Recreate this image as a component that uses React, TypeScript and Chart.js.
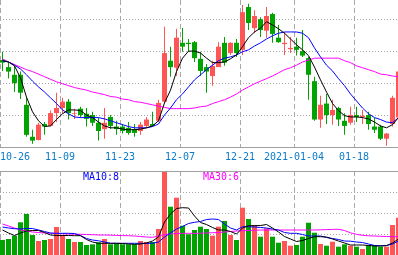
import { useEffect, useRef } from 'react';
import { Chart, registerables } from 'chart.js';

Chart.register(...registerables);

// Daily candles, 2020-10-26 .. 2021-01-27 (index = trading day)
const OPEN = [11.36, 11.25, 11.13, 11.13, 10.66, 10.16, 10.11, 10.36, 10.33, 10.53,
  10.61, 10.71, 10.52, 10.60, 10.52, 10.50, 10.38, 10.28, 10.47, 10.32,
  10.32, 10.30, 10.28, 10.25, 10.33, 10.36, 10.41, 10.71, 11.35, 11.24,
  11.63, 11.63, 11.64, 11.38, 11.25, 11.11, 11.25, 11.63, 11.47, 11.63,
  11.52, 12.19, 11.86, 12.00, 11.82, 12.08, 11.71, 11.61, 11.53, 11.57,
  11.50, 11.39, 11.03, 10.43, 10.68, 10.50, 10.61, 10.41, 10.38, 10.50,
  10.47, 10.50, 10.32, 10.32, 10.13, 10.36, 10.46];
const HIGH = [11.49, 11.33, 11.27, 11.18, 10.78, 10.27, 10.38, 10.39, 10.57, 10.85,
  10.77, 10.75, 10.60, 10.63, 10.61, 10.55, 10.46, 10.61, 10.50, 10.41,
  10.36, 10.39, 10.36, 10.39, 10.47, 10.55, 10.74, 11.88, 11.57, 11.85,
  11.86, 11.69, 11.66, 11.49, 11.30, 11.35, 11.64, 11.72, 11.64, 11.69,
  12.22, 12.24, 12.14, 12.03, 12.19, 12.10, 11.91, 11.80, 11.72, 11.71,
  11.83, 11.41, 11.10, 10.80, 10.83, 10.74, 10.63, 10.53, 10.63, 10.63,
  10.58, 10.55, 10.46, 10.35, 10.22, 10.80, 11.21];
const LOW = [11.19, 11.07, 10.86, 10.75, 10.16, 10.05, 10.10, 10.19, 10.32, 10.39,
  10.52, 10.43, 10.44, 10.46, 10.32, 10.33, 10.10, 10.13, 10.28, 10.19,
  10.21, 10.19, 10.16, 10.19, 10.30, 10.32, 10.39, 10.69, 11.10, 11.11,
  11.49, 11.49, 11.33, 11.11, 10.85, 10.96, 11.25, 11.27, 11.44, 11.41,
  11.44, 11.83, 11.78, 11.72, 11.71, 11.63, 11.63, 11.44, 11.47, 11.43,
  11.41, 10.74, 10.41, 10.30, 10.36, 10.35, 10.33, 10.19, 10.35, 10.39,
  10.36, 10.27, 10.22, 10.11, 10.02, 10.32, 10.43];
const CLOSE = [11.32, 11.18, 11.00, 10.85, 10.19, 10.10, 10.35, 10.32, 10.53, 10.61,
  10.71, 10.53, 10.53, 10.50, 10.44, 10.38, 10.25, 10.38, 10.33, 10.28,
  10.25, 10.22, 10.22, 10.35, 10.43, 10.33, 10.69, 11.47, 11.25, 11.71,
  11.57, 11.61, 11.39, 11.19, 11.18, 11.27, 11.57, 11.32, 11.63, 11.47,
  12.11, 11.94, 12.05, 11.83, 12.05, 11.77, 11.64, 11.63, 11.55, 11.52,
  11.43, 11.13, 10.43, 10.66, 10.50, 10.58, 10.43, 10.33, 10.50, 10.47,
  10.49, 10.36, 10.27, 10.13, 10.21, 10.77, 11.18];

// Price moving averages
const MA5 = [11.35, 11.33, 11.27, 11.08, 10.78, 10.55, 10.41, 10.32, 10.33, 10.43,
  10.52, 10.58, 10.58, 10.57, 10.50, 10.46, 10.39, 10.33, 10.30, 10.30,
  10.28, 10.27, 10.27, 10.28, 10.30, 10.33, 10.41, 10.69, 10.89, 11.18,
  11.39, 11.50, 11.50, 11.47, 11.39, 11.32, 11.32, 11.33, 11.38, 11.44,
  11.57, 11.71, 11.80, 11.86, 11.96, 11.91, 11.85, 11.78, 11.69, 11.60,
  11.52, 11.43, 11.25, 11.05, 10.86, 10.68, 10.57, 10.49, 10.47, 10.47,
  10.46, 10.44, 10.39, 10.33, 10.30, 10.35, 10.46];
const MA10 = [11.35, 11.33, 11.28, 11.22, 11.13, 11.03, 10.94, 10.86, 10.77, 10.68,
  10.58, 10.52, 10.47, 10.46, 10.46, 10.46, 10.46, 10.44, 10.41, 10.38,
  10.35, 10.32, 10.30, 10.30, 10.30, 10.32, 10.36, 10.50, 10.61, 10.74,
  10.83, 10.94, 11.05, 11.13, 11.21, 11.28, 11.35, 11.39, 11.41, 11.44,
  11.49, 11.52, 11.58, 11.63, 11.69, 11.74, 11.78, 11.80, 11.80, 11.80,
  11.78, 11.71, 11.55, 11.41, 11.28, 11.19, 11.07, 10.96, 10.83, 10.72,
  10.61, 10.52, 10.46, 10.43, 10.39, 10.38, 10.46];
const MA30 = [11.38, 11.33, 11.29, 11.25, 11.21, 11.18, 11.14, 11.10, 11.06, 11.02,
  10.99, 10.96, 10.93, 10.91, 10.89, 10.86, 10.84, 10.82, 10.79, 10.78,
  10.75, 10.74, 10.71, 10.70, 10.68, 10.66, 10.64, 10.62, 10.60, 10.60,
  10.60, 10.60, 10.61, 10.63, 10.64, 10.68, 10.71, 10.74, 10.78, 10.83,
  10.89, 10.94, 10.99, 11.03, 11.07, 11.11, 11.16, 11.21, 11.24, 11.28,
  11.33, 11.36, 11.39, 11.39, 11.39, 11.39, 11.39, 11.35, 11.32, 11.27,
  11.24, 11.21, 11.18, 11.14, 11.13, 11.11, 11.10];

// Daily volume and its moving averages
const VOLUME = [150, 160, 193, 327, 410, 200, 140, 150, 160, 280,
  200, 160, 130, 130, 100, 107, 127, 160, 107, 117,
  107, 107, 107, 140, 130, 130, 260, 840, 483, 573,
  293, 207, 250, 283, 260, 193, 283, 340, 200, 150,
  473, 360, 300, 183, 267, 183, 123, 140, 93, 100,
  183, 323, 223, 110, 93, 133, 83, 107, 93, 83,
  60, 100, 100, 83, 83, 300, 373];
const VMA5 = [250, 220, 195, 220, 240, 245, 245, 225, 200, 195,
  195, 195, 193, 193, 155, 130, 117, 117, 117, 117,
  115, 110, 107, 110, 120, 140, 180, 330, 410, 465,
  473, 470, 390, 325, 305, 275, 250, 250, 235, 210,
  270, 293, 293, 295, 305, 270, 230, 185, 160, 135,
  145, 165, 183, 183, 180, 160, 140, 120, 100, 100,
  100, 95, 90, 90, 93, 120, 160];
const VMA10 = [280, 270, 263, 260, 265, 265, 250, 235, 220, 217,
  217, 217, 215, 195, 165, 150, 142, 130, 117, 117,
  117, 117, 117, 117, 117, 117, 130, 180, 220, 260,
  285, 315, 327, 335, 355, 360, 355, 310, 270, 250,
  283, 283, 280, 275, 270, 260, 250, 225, 217, 217,
  205, 190, 190, 190, 175, 165, 155, 140, 138, 130,
  125, 110, 95, 93, 95, 110, 140];
const VMA30 = [310, 290, 270, 250, 240, 230, 225, 220, 217, 215,
  212, 210, 208, 207, 205, 203, 200, 200, 198, 196,
  194, 193, 190, 185, 180, 177, 190, 205, 210, 215,
  217, 217, 217, 217, 220, 223, 225, 230, 235, 240,
  243, 245, 247, 250, 250, 250, 250, 250, 250, 250,
  250, 250, 250, 252, 254, 256, 257, 245, 222, 207,
  197, 192, 190, 187, 185, 183, 183];

// Date axis labels and the trading-day index they mark
const TICK_INDEX = [0, 10, 20, 30, 40, 49, 59];
const TICK_LABELS = ['10-26', '11-09', '11-23', '12-07', '12-21', '2021-01-04', '01-18'];

const PRICE_MIN = 10;
const PRICE_MAX = 12.3;
const PRICE_GRID = [10.5, 11, 11.5, 12];
const VOLUME_MAX = 840;
const VOLUME_GRID = [210, 420, 630];

const UP = '#ff5555';
const DOWN = '#00a300';
const GRID = '#a8a8a8';
const AXIS = '#a0a0a0';
const MONO = "'DejaVu Sans Mono', monospace";

const WIDTH = 398;
const SLOT = 6;
const X_MIN = -2.5 / SLOT;
const X_MAX = X_MIN + WIDTH / SLOT;

const candleColors = OPEN.map((o, i) => (CLOSE[i] >= o ? UP : DOWN));
const points = (arr: number[]) => arr.map((y, x) => ({ x, y }));

const xScale = () => ({
  type: 'linear' as const,
  min: X_MIN,
  max: X_MAX,
  offset: false,
  ticks: { display: false },
  grid: { drawTicks: false, color: GRID, lineWidth: 1, offset: false },
  border: { display: false, dash: [5, 3] },
  afterBuildTicks: (scale: any) => {
    scale.ticks = TICK_INDEX.map((k) => ({ value: k + X_MIN }));
  },
});

const maLine = (data: number[], color: string) => ({
  type: 'line' as const,
  data: points(data),
  borderColor: color,
  borderWidth: 1,
  pointRadius: 0,
  tension: 0,
  order: 0,
});

const dateAxis = {
  id: 'dateAxis',
  afterDraw(chart: any) {
    const { ctx, chartArea, scales } = chart;
    ctx.save();
    ctx.fillStyle = AXIS;
    ctx.fillRect(0, chartArea.bottom, chart.width, 1);
    ctx.font = `10px ${MONO}`;
    ctx.fillStyle = '#0b7bc9';
    ctx.textAlign = 'center';
    ctx.textBaseline = 'alphabetic';
    TICK_INDEX.forEach((k, n) => {
      const label = TICK_LABELS[n];
      const half = ctx.measureText(label).width / 2;
      const px = scales.x.getPixelForValue(k + X_MIN);
      const x = Math.max(half, Math.min(chart.width - half, px));
      ctx.fillText(label, x, chartArea.bottom + 12.5);
    });
    ctx.restore();
  },
};

const volumeHeader = {
  id: 'volumeHeader',
  afterDraw(chart: any) {
    const { ctx, chartArea } = chart;
    ctx.save();
    ctx.fillStyle = AXIS;
    ctx.fillRect(0, chartArea.top, chart.width, 1);
    ctx.font = `10px ${MONO}`;
    ctx.textAlign = 'left';
    ctx.textBaseline = 'alphabetic';
    ctx.fillStyle = '#0000ff';
    ctx.fillText('MA10:8', 83, chartArea.top + 8.5);
    ctx.fillStyle = '#ff00ff';
    ctx.fillText('MA30:6', 203, chartArea.top + 8.5);
    ctx.restore();
  },
};

const baseOptions = {
  responsive: false,
  animation: false as const,
  devicePixelRatio: 1,
  events: [] as any[],
  plugins: { legend: { display: false }, tooltip: { enabled: false } },
};

export default function App() {
  const priceRef = useRef<HTMLCanvasElement>(null);
  const volumeRef = useRef<HTMLCanvasElement>(null);

  useEffect(() => {
    const price = new Chart(priceRef.current!, {
      type: 'bar',
      data: {
        datasets: [
          maLine(MA5, '#000000'),
          maLine(MA10, '#0000ff'),
          maLine(MA30, '#ff00ff'),
          {
            type: 'bar',
            data: OPEN.map((o, i) => ({ x: i, y: [o, CLOSE[i]] })),
            backgroundColor: candleColors,
            barThickness: 5,
            grouped: false,
            inflateAmount: 0,
            borderWidth: 0,
            order: 1,
          } as any,
          {
            type: 'bar',
            data: LOW.map((l, i) => ({ x: i, y: [l, HIGH[i]] })),
            backgroundColor: candleColors,
            barThickness: 1,
            grouped: false,
            inflateAmount: 0,
            borderWidth: 0,
            order: 2,
          } as any,
        ],
      },
      options: {
        ...baseOptions,
        layout: { padding: { left: 0, right: 0, top: 0, bottom: 24 } },
        scales: {
          x: xScale(),
          y: {
            type: 'linear',
            min: PRICE_MIN,
            max: PRICE_MAX,
            beginAtZero: false,
            ticks: { display: false },
            grid: { drawTicks: false, color: GRID, lineWidth: 1 },
            border: { display: false, dash: [1, 2] },
            afterBuildTicks: (scale: any) => {
              scale.ticks = PRICE_GRID.map((value) => ({ value }));
            },
          },
        },
      } as any,
      plugins: [dateAxis],
    });

    const volume = new Chart(volumeRef.current!, {
      type: 'bar',
      data: {
        datasets: [
          maLine(VMA5, '#000000'),
          maLine(VMA10, '#0000ff'),
          maLine(VMA30, '#ff00ff'),
          {
            type: 'bar',
            data: points(VOLUME),
            backgroundColor: candleColors,
            barThickness: 5,
            grouped: false,
            inflateAmount: 0,
            borderWidth: 0,
            order: 1,
          } as any,
        ],
      },
      options: {
        ...baseOptions,
        layout: { padding: 0 },
        scales: {
          x: xScale(),
          y: {
            type: 'linear',
            min: 0,
            max: VOLUME_MAX,
            ticks: { display: false },
            grid: { drawTicks: false, color: GRID, lineWidth: 1 },
            border: { display: false, dash: [1, 2] },
            afterBuildTicks: (scale: any) => {
              scale.ticks = VOLUME_GRID.map((value) => ({ value }));
            },
          },
        },
      } as any,
      plugins: [volumeHeader],
    });

    return () => {
      price.destroy();
      volume.destroy();
    };
  }, []);

  return (
    <div
      style={{
        position: 'fixed',
        left: 0,
        top: 0,
        width: WIDTH,
        height: 255,
        background: '#ffffff',
        overflow: 'hidden',
      }}
    >
      <canvas ref={priceRef} width={WIDTH} height={171} style={{ position: 'absolute', left: 0, top: 0 }} />
      <canvas ref={volumeRef} width={WIDTH} height={84} style={{ position: 'absolute', left: 0, top: 171 }} />
    </div>
  );
}
